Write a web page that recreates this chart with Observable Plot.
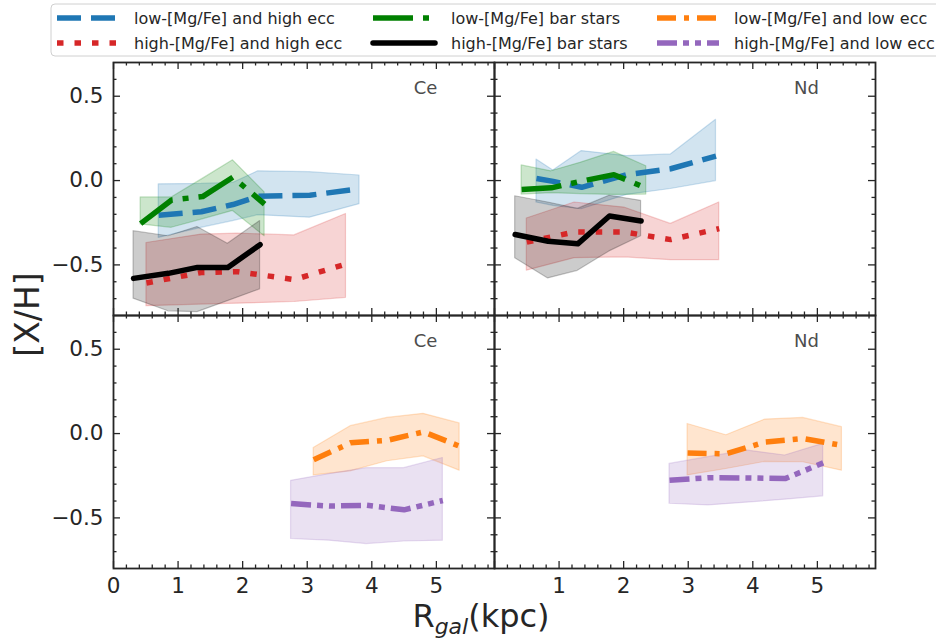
<!DOCTYPE html>
<html>
<head>
<meta charset="utf-8">
<script src="https://cdn.jsdelivr.net/npm/d3@7"></script>
<script src="https://cdn.jsdelivr.net/npm/@observablehq/plot@0.6"></script>
<style>
html, body { margin: 0; padding: 0; background: #fff; overflow: hidden; }
#wrap { position: relative; width: 936px; height: 639px; font-family: "DejaVu Sans", sans-serif; }
#legend { position: absolute; left: 0; top: 0; z-index: 2; }
#chart { position: absolute; left: 0; top: 0; }
</style>
</head>
<body>
<div id="wrap"><div id="chart"></div><div id="legend"></div></div>
<script>
// ---------- labels ----------
const elements = ["Ce", "Nd"];
const rows = ["top", "bottom"];
const legendLabels = [
  "low-[Mg/Fe] and high ecc", "high-[Mg/Fe] and high ecc",
  "low-[Mg/Fe] bar stars", "high-[Mg/Fe] bar stars",
  "low-[Mg/Fe] and low ecc", "high-[Mg/Fe] and low ecc"
];
const xTicks = [0, 1, 2, 3, 4, 5];
const xTickLabels = ["0", "1", "2", "3", "4", "5"];
const yTicks = [-0.5, 0, 0.5];
const yTickLabels = ["\u22120.5", "0.0", "0.5"];
const xMinorTicks = [0.2,0.4,0.6,0.8,1.2,1.4,1.6,1.8,2.2,2.4,2.6,2.8,3.2,3.4,3.6,3.8,4.2,4.4,4.6,4.8,5.2,5.4,5.6,5.8];
const yMinorTicks = [-0.7,-0.6,-0.4,-0.3,-0.2,-0.1,0.1,0.2,0.3,0.4,0.6];

// ---------- Ce, top row ----------
const ceLowHighEccR  = [0.70, 1.36, 1.85, 2.24, 3.04, 3.81];
const ceLowHighEccY  = [-0.205, -0.185, -0.142, -0.093, -0.087, -0.049];
const ceLowHighEccLo = [-0.34, -0.28, -0.24, -0.205, -0.22, -0.14];
const ceLowHighEccHi = [-0.022, -0.02, -0.014, 0.055, 0.05, 0.03];

const ceHighHighEccR  = [0.51, 1.36, 1.92, 2.80, 3.60];
const ceHighHighEccY  = [-0.607, -0.545, -0.54, -0.587, -0.495];
const ceHighHighEccLo = [-0.745, -0.735, -0.73, -0.72, -0.695];
const ceHighHighEccHi = [-0.37, -0.32, -0.315, -0.325, -0.198];

const ceLowBarR  = [0.42, 0.90, 1.38, 1.85, 2.34];
const ceLowBarY  = [-0.255, -0.115, -0.095, 0.02, -0.14];
const ceLowBarLo = [-0.26, -0.28, -0.23, -0.18, -0.33];
const ceLowBarHi = [-0.10, -0.10, 0.01, 0.12, -0.07];

const ceHighBarR  = [0.31, 0.85, 1.30, 1.77, 2.27];
const ceHighBarY  = [-0.58, -0.55, -0.515, -0.515, -0.38];
const ceHighBarLo = [-0.70, -0.775, -0.78, -0.715, -0.645];
const ceHighBarHi = [-0.30, -0.33, -0.275, -0.375, -0.24];

// ---------- Nd, top row ----------
const ndLowHighEccR  = [0.65, 0.91, 1.35, 2.05, 2.73, 3.43];
const ndLowHighEccY  = [0.012, -0.005, -0.04, 0.035, 0.07, 0.145];
const ndLowHighEccLo = [-0.13, -0.15, -0.17, -0.085, -0.05, -0.003];
const ndLowHighEccHi = [0.125, 0.06, 0.175, 0.145, 0.155, 0.36];

const ndHighHighEccR  = [0.50, 1.24, 2.01, 2.73, 3.48];
const ndHighHighEccY  = [-0.365, -0.305, -0.305, -0.35, -0.285];
const ndHighHighEccLo = [-0.534, -0.46, -0.455, -0.472, -0.472];
const ndHighHighEccHi = [-0.225, -0.13, -0.16, -0.257, -0.13];

const ndLowBarR  = [0.42, 0.88, 1.33, 1.85, 2.35];
const ndLowBarY  = [-0.053, -0.043, -0.005, 0.035, -0.045];
const ndLowBarLo = [-0.083, -0.075, -0.08, -0.085, -0.083];
const ndLowBarHi = [0.09, 0.055, 0.105, 0.17, 0.085];

const ndHighBarR  = [0.32, 0.83, 1.29, 1.78, 2.27];
const ndHighBarY  = [-0.32, -0.36, -0.375, -0.21, -0.24];
const ndHighBarLo = [-0.46, -0.58, -0.535, -0.42, -0.33];
const ndHighBarHi = [-0.093, -0.13, -0.168, -0.09, -0.12];

// ---------- Ce, bottom row ----------
const ceLowLowEccR  = [3.10, 3.67, 4.24, 4.80, 5.36];
const ceLowLowEccY  = [-0.155, -0.055, -0.04, 0.01, -0.075];
const ceLowLowEccLo = [-0.248, -0.224, -0.164, -0.135, -0.22];
const ceLowLowEccHi = [-0.085, 0.044, 0.093, 0.117, 0.06];

const ceHighLowEccR  = [2.75, 3.34, 3.92, 4.50, 5.10];
const ceHighLowEccY  = [-0.415, -0.43, -0.425, -0.452, -0.397];
const ceHighLowEccLo = [-0.625, -0.635, -0.655, -0.64, -0.635];
const ceHighLowEccHi = [-0.28, -0.24, -0.205, -0.205, -0.145];

// ---------- Nd, bottom row ----------
const ndLowLowEccR  = [2.99, 3.59, 4.19, 4.78, 5.38];
const ndLowLowEccY  = [-0.115, -0.12, -0.05, -0.03, -0.07];
const ndLowLowEccLo = [-0.248, -0.21, -0.168, -0.17, -0.22];
const ndLowLowEccHi = [0.057, -0.01, 0.083, 0.093, 0.038];

const ndHighLowEccR  = [2.71, 3.31, 3.90, 4.50, 5.09];
const ndHighLowEccY  = [-0.277, -0.262, -0.263, -0.267, -0.174];
const ndHighLowEccLo = [-0.416, -0.426, -0.41, -0.392, -0.372];
const ndHighLowEccHi = [-0.18, -0.14, -0.10, -0.13, -0.061];

// ---------- styles ----------
const styles = {
  lhe:  {label: legendLabels[0], color: "#1f77b4", dash: "24,10", cap: "butt"},
  hhe:  {label: legendLabels[1], color: "#d62728", dash: "6.5,11", cap: "butt"},
  lbar: {label: legendLabels[2], color: "#008000", dash: "40,10,6,10", cap: "butt"},
  hbar: {label: legendLabels[3], color: "#000000", dash: null, cap: "round"},
  lle:  {label: legendLabels[4], color: "#ff7f0e", dash: "19,8,5,8", cap: "butt"},
  hle:  {label: legendLabels[5], color: "#9467bd", dash: "20,6,6,6,6,6", cap: "butt"}
};

const panels = [
  {el: "Ce", row: "top", key: "lhe",  r: ceLowHighEccR,  y: ceLowHighEccY,  lo: ceLowHighEccLo,  hi: ceLowHighEccHi},
  {el: "Ce", row: "top", key: "hhe",  r: ceHighHighEccR, y: ceHighHighEccY, lo: ceHighHighEccLo, hi: ceHighHighEccHi},
  {el: "Ce", row: "top", key: "lbar", r: ceLowBarR,      y: ceLowBarY,      lo: ceLowBarLo,      hi: ceLowBarHi},
  {el: "Ce", row: "top", key: "hbar", r: ceHighBarR,     y: ceHighBarY,     lo: ceHighBarLo,     hi: ceHighBarHi},
  {el: "Nd", row: "top", key: "lhe",  r: ndLowHighEccR,  y: ndLowHighEccY,  lo: ndLowHighEccLo,  hi: ndLowHighEccHi},
  {el: "Nd", row: "top", key: "hhe",  r: ndHighHighEccR, y: ndHighHighEccY, lo: ndHighHighEccLo, hi: ndHighHighEccHi},
  {el: "Nd", row: "top", key: "lbar", r: ndLowBarR,      y: ndLowBarY,      lo: ndLowBarLo,      hi: ndLowBarHi},
  {el: "Nd", row: "top", key: "hbar", r: ndHighBarR,     y: ndHighBarY,     lo: ndHighBarLo,     hi: ndHighBarHi},
  {el: "Ce", row: "bottom", key: "lle", r: ceLowLowEccR,  y: ceLowLowEccY,  lo: ceLowLowEccLo,  hi: ceLowLowEccHi},
  {el: "Ce", row: "bottom", key: "hle", r: ceHighLowEccR, y: ceHighLowEccY, lo: ceHighLowEccLo, hi: ceHighLowEccHi},
  {el: "Nd", row: "bottom", key: "lle", r: ndLowLowEccR,  y: ndLowLowEccY,  lo: ndLowLowEccLo,  hi: ndLowLowEccHi},
  {el: "Nd", row: "bottom", key: "hle", r: ndHighLowEccR, y: ndHighLowEccY, lo: ndHighLowEccLo, hi: ndHighLowEccHi}
];

// ---------- layout ----------
const W = 936, H = 639, mL = 112, mR = 61, mT = 61, mB = 71;
const FW = (W - mL - mR) / 2, FH = (H - mT - mB) / 2;
const ink = "#262626";
const majorLen = 7.5, minorLen = 4;

const panelRecs = panels.map(p => p.r.map((r, i) => ({el: p.el, row: p.row, key: p.key, r, y: p.y[i], lo: p.lo[i], hi: p.hi[i]})));

const marks = [];
// bands
panels.forEach((p, k) => {
  const s = styles[p.key];
  marks.push(Plot.areaY(panelRecs[k], {x: "r", y1: "lo", y2: "hi", fx: "el", fy: "row",
    fill: s.color, fillOpacity: 0.2, stroke: s.color, strokeOpacity: 0.22, strokeWidth: 1.2}));
});
// lines
panels.forEach((p, k) => {
  const s = styles[p.key];
  marks.push(Plot.line(panelRecs[k], {x: "r", y: "y", fx: "el", fy: "row",
    stroke: s.color, strokeWidth: 5.5, strokeDasharray: s.dash, strokeLinecap: s.cap, strokeLinejoin: "round"}));
});
// frame
marks.push(Plot.frame({stroke: ink, strokeWidth: 1.8}));
// ticks (inward, all four sides)
const tickOpt = {stroke: ink, strokeWidth: 1.3};
marks.push(Plot.ruleX(xTicks, {x: d => d, insetTop: FH - majorLen, ...tickOpt}));
marks.push(Plot.ruleX(xTicks, {x: d => d, insetBottom: FH - majorLen, ...tickOpt}));
marks.push(Plot.ruleX(xMinorTicks, {x: d => d, insetTop: FH - minorLen, ...tickOpt}));
marks.push(Plot.ruleX(xMinorTicks, {x: d => d, insetBottom: FH - minorLen, ...tickOpt}));
marks.push(Plot.ruleY(yTicks, {y: d => d, insetRight: FW - majorLen, ...tickOpt}));
marks.push(Plot.ruleY(yTicks, {y: d => d, insetLeft: FW - majorLen, ...tickOpt}));
marks.push(Plot.ruleY(yMinorTicks, {y: d => d, insetRight: FW - minorLen, ...tickOpt}));
marks.push(Plot.ruleY(yMinorTicks, {y: d => d, insetLeft: FW - minorLen, ...tickOpt}));

// tick labels
const xLabelData = [];
elements.forEach(el => xTicks.forEach((v, i) => {
  if (!(el === "Nd" && v === 0)) xLabelData.push({el, row: "bottom", v, t: xTickLabels[i]});
}));
marks.push(Plot.text(xLabelData, {x: "v", text: "t", fx: "el", fy: "row", frameAnchor: "bottom",
  lineAnchor: "top", dy: 9, fontSize: 21.5, fill: ink}));
const yLabelData = [];
rows.forEach(row => yTicks.forEach((v, i) => yLabelData.push({el: "Ce", row, v, t: yTickLabels[i]})));
marks.push(Plot.text(yLabelData, {y: "v", text: "t", fx: "el", fy: "row", frameAnchor: "left",
  textAnchor: "end", dx: -10, fontSize: 21.5, fill: ink}));

// panel element labels
const panelLabels = [];
rows.forEach(row => elements.forEach(el => panelLabels.push({el, row})));
marks.push(Plot.text(panelLabels, {text: "el", fx: "el", fy: "row", frameAnchor: "top-right",
  textAnchor: "middle", lineAnchor: "top", dx: -69, dy: 19, fontSize: 18, fill: "#4d4d4d"}));

const chart = Plot.plot({
  width: W, height: H,
  marginLeft: mL, marginRight: mR, marginTop: mT, marginBottom: mB,
  x: {domain: [0, 5.9], axis: null},
  y: {domain: [-0.8, 0.7], axis: null},
  fx: {domain: elements, padding: 0, axis: null},
  fy: {domain: rows, padding: 0, axis: null},
  style: {fontFamily: "DejaVu Sans", background: "white"},
  marks
});
document.getElementById("chart").appendChild(chart);

// axis titles
const svg = d3.select(chart);
svg.append("text")
  .attr("transform", `translate(27,${mT + FH}) rotate(-90)`)
  .attr("text-anchor", "middle").attr("dominant-baseline", "central")
  .attr("font-family", "DejaVu Sans").attr("font-size", 33).attr("fill", ink)
  .text("[X/H]");
const xl = svg.append("text").attr("x", 481).attr("y", 627)
  .attr("text-anchor", "middle").attr("font-family", "DejaVu Sans").attr("font-size", 32).attr("fill", ink);
xl.append("tspan").text("R");
xl.append("tspan").attr("font-size", 22).attr("font-style", "italic").attr("dy", 7).text("gal");
xl.append("tspan").attr("dy", -7).text("(kpc)");

// legend
const lg = d3.select("#legend").append("svg").attr("width", W).attr("height", 60);
lg.append("rect").attr("x", 51).attr("y", 4).attr("width", 920).attr("height", 52).attr("rx", 4)
  .attr("fill", "white").attr("fill-opacity", 0.8).attr("stroke", "#d0d0d0").attr("stroke-width", 1);
const legendOrder = ["lhe", "hhe", "lbar", "hbar", "lle", "hle"];
const colSwatchX = [57, 373, 657], colTextX = [134, 451, 734], rowY = [18, 43];
legendOrder.forEach((key, i) => {
  const s = styles[key];
  const c = Math.floor(i / 2), r = i % 2;
  lg.append("line").attr("x1", colSwatchX[c]).attr("x2", colSwatchX[c] + 62)
    .attr("y1", rowY[r]).attr("y2", rowY[r])
    .attr("stroke", s.color).attr("stroke-width", 5.5)
    .attr("stroke-dasharray", s.dash).attr("stroke-linecap", s.cap);
  lg.append("text").attr("x", colTextX[c]).attr("y", rowY[r]).attr("dominant-baseline", "central")
    .attr("font-family", "DejaVu Sans").attr("font-size", 16).attr("fill", ink).text(s.label);
});
</script>
</body>
</html>
